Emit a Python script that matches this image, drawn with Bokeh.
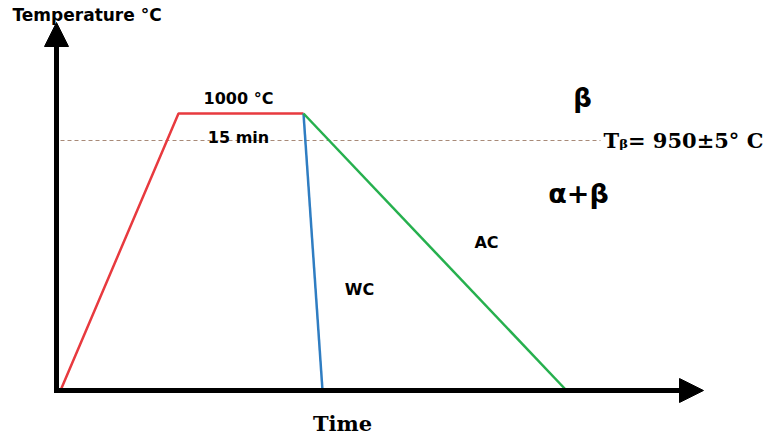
from bokeh.plotting import figure
from bokeh.models import Range1d, Arrow, NormalHead, ColumnDataSource
from bokeh.embed import file_html
from bokeh.resources import INLINE

# --- data (diagram units: time along x, temperature level along y) ---
heat_time = [0, 118, 243]
heat_temp = [0, 277, 277]
wc_time = [243, 262]
wc_temp = [277, 0]
ac_time = [243, 506]
ac_temp = [277, 0]
tbeta_level = 250
tbeta_span = [0, 540]
axis_origin = [-4, 0]
x_axis_end = 643
y_axis_end = 368

label_text = ["Temperature °C", "1000 °C", "15 min", "β", "Tᵦ= 950±5° C",
              "α+β", "AC", "WC", "Time"]
label_x = [-48, 178, 178, 522, 543, 518, 426, 299, 282]
label_y = [376, 292, 253, 293, 250, 197, 148, 101, -33]
label_size = ["17px", "16px", "16px", "26px", "21px", "27px", "16px", "16px", "21px"]
label_font = ["DejaVu Sans", "DejaVu Sans", "DejaVu Sans", "DejaVu Sans", "DejaVu Serif",
              "DejaVu Sans", "DejaVu Sans", "DejaVu Sans", "DejaVu Serif"]
label_align = ["left", "center", "center", "center", "left", "center", "center", "center",
               "center"]

p = figure(width=770, height=436, output_backend="svg", toolbar_location=None,
           x_range=Range1d(-60, 710), y_range=Range1d(-46, 390),
           min_border=0, min_border_left=0, min_border_right=0,
           min_border_top=0, min_border_bottom=0)
p.axis.visible = False
p.grid.visible = False
p.outline_line_color = None
p.background_fill_color = "white"

# Tβ dashed level
p.line(tbeta_span, [tbeta_level, tbeta_level], line_color="#a88a78", line_width=1,
       line_dash="4 3")

# thermal cycle lines
p.line(heat_time, heat_temp, line_color="#e83a3f", line_width=2.5)
p.line(wc_time, wc_temp, line_color="#2f7dc2", line_width=2.5)
p.line(ac_time, ac_temp, line_color="#26b04e", line_width=2.5)

# axes arrows
p.add_layout(Arrow(end=NormalHead(size=24, fill_color="black", line_color="black"),
                   x_start=axis_origin[0], y_start=axis_origin[1] - 2.5,
                   x_end=axis_origin[0], y_end=y_axis_end,
                   line_color="black", line_width=5))
p.add_layout(Arrow(end=NormalHead(size=24, fill_color="black", line_color="black"),
                   x_start=axis_origin[0] - 2.5, y_start=axis_origin[1],
                   x_end=x_axis_end, y_end=axis_origin[1],
                   line_color="black", line_width=5))

src = ColumnDataSource(dict(x=label_x, y=label_y, text=label_text, size=label_size,
                            font=label_font, align=label_align))
p.text(x="x", y="y", text="text", source=src, text_font_size="size",
       text_font="font", text_align="align", text_baseline="middle",
       text_font_style="bold", text_color="black")

open("out.html", "w").write(file_html(p, INLINE))
